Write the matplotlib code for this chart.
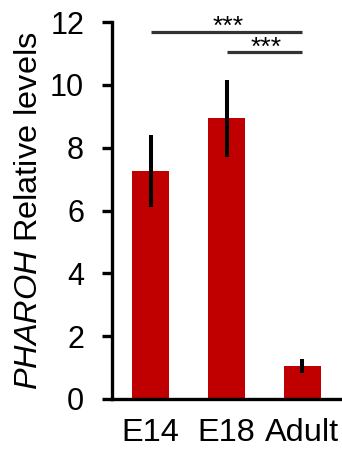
import matplotlib
matplotlib.use("Agg")
import matplotlib.pyplot as plt

categories = ["E14", "E18", "Adult"]
values = [7.25, 8.94, 1.05]
errors = [1.15, 1.23, 0.23]
yticks = [0, 2, 4, 6, 8, 10, 12]
# significance comparisons: (from index, to index, y level, label)
sig_from = [0, 1]
sig_to = [2, 2]
sig_y = [11.7, 11.04]
sig_label = ["***", "***"]

plt.rcParams['font.family'] = ['Liberation Sans', 'DejaVu Sans']
plt.rcParams['mathtext.fontset'] = 'custom'
plt.rcParams['mathtext.rm'] = 'Liberation Sans'
plt.rcParams['mathtext.it'] = 'Liberation Sans:italic'

fig = plt.figure(figsize=(3.42, 4.51), dpi=100)
ax = fig.add_axes([0.327, 0.1153, 0.673, 0.951 - 0.1153])

x = list(range(len(categories)))
ax.bar(x, values, width=0.49, color="#C00000", zorder=2)
ax.errorbar(x, values, yerr=errors, fmt="none", ecolor="black",
            elinewidth=2.9, capsize=0, zorder=3)

for a, b, yv, lab in zip(sig_from, sig_to, sig_y, sig_label):
    ax.plot([a, b], [yv, yv], color="#333333", lw=2.3, solid_capstyle="butt",
            clip_on=False, zorder=4)
    ax.text((a + b) / 2 + 0.02, yv - 0.08, lab, ha="center", va="baseline",
            fontsize=19, color="black")

ax.set_xlim(-0.51, 2.52)
ax.set_ylim(0, 12)
ax.set_yticks(yticks)
ax.set_xticks(x)
ax.set_xticklabels(categories, fontsize=23.4)
ax.tick_params(axis="y", labelsize=22, length=7.5, width=2.4, pad=12.5,
               direction="out")
ax.tick_params(axis="x", length=0, pad=14)

for s in ["top", "right"]:
    ax.spines[s].set_visible(False)
for s in ["left", "bottom"]:
    ax.spines[s].set_linewidth(2.4)

ax.set_ylabel(r"$\mathit{PHAROH}$ Relative levels", fontsize=23.4, labelpad=4.5)

fig.savefig("out.png", dpi=100)
